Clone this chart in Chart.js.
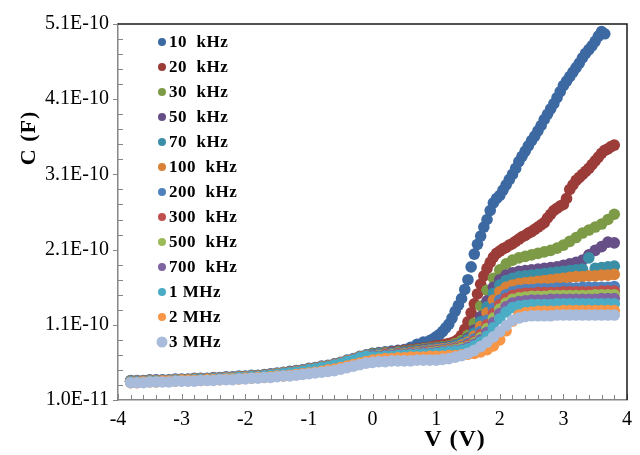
<!DOCTYPE html>
<html>
<head>
<meta charset="utf-8">
<script src="https://cdn.jsdelivr.net/npm/chart.js@4.4.1/dist/chart.umd.min.js"></script>
<style>
  html, body { margin: 0; padding: 0; background: #fff; }
  #wrap { width: 640px; height: 455px; }
</style>
</head>
<body>
<div id="wrap"><canvas id="cvChart" width="640" height="455"></canvas></div>
<script>
// bias voltage (V)
const voltage = [
  -3.8,-3.7,-3.6,-3.5,-3.4,-3.3,-3.2,-3.1,-3.0,-2.9,-2.8,-2.7,-2.6,-2.5,-2.4,-2.3,-2.2,-2.1,-2.0,
  -1.9,-1.8,-1.7,-1.6,-1.5,-1.4,-1.3,-1.2,-1.1,-1.0,-0.9,-0.8,-0.7,-0.6,-0.5,-0.4,-0.3,-0.2,-0.1,
  0.0,0.1,0.2,0.3,0.4,0.5,0.6,0.7,0.8,0.9,1.0,1.1,1.2,1.3,1.4,1.5,1.6,1.7,1.8,1.9,
  2.0,2.1,2.2,2.3,2.4,2.5,2.6,2.7,2.8,2.9,3.0,3.1,3.2,3.3,3.4,3.5,3.6,3.7,3.8
];
// in-between voltages, read only where the 10 and 20 kHz curves climb fast
const voltageHalf = [
  0.95,1.05,1.15,1.25,1.35,1.45,1.55,1.65,1.75,1.85,1.95,2.05,2.15,2.25,2.35,
  2.45,2.55,2.65,2.75,2.85,2.95,3.05,3.15,3.25,3.35,3.45,3.55,3.65,3.75
];

// capacitance in pF (1E-10 F = 100 pF), one array per frequency
const c10k = [36,36,36,37,37,37,37,38,38,38,39,39,39,40,40,41,41,42,42,43,43,44,45,46,47,48,49,50,52,53,55,56,58,60,63,65,68,70,
  72,73,74,75,76,77,80,84,87,89,94,101,111,128,145,170,204,228,250,272,282,296,310,327,341,355,368,383,397,412,428,440,452,465,476,487,500,null,null];
const c20k = [35,35,35,36,36,36,36,37,37,37,38,38,38,39,39,40,40,41,41,42,42,43,44,45,46,47,48,49,51,52,54,55,57,59,62,64,67,69,
  71,72,73,74,75,76,77,78,79,80,82,83,85,88,96,114,138,164,185,200,208,213,218,224,229,234,240,246,257,265,270,290,302,310,318,328,338,344,349];
const c30k = [35,35,35,36,36,36,36,37,37,37,38,38,38,39,39,40,40,41,41,42,42,43,44,45,46,47,48,49,51,52,54,55,57,59,62,64,67,69,
  71,72,73,73,74,75,76,77,78,79,80,81,82,85,89,96,112,135,156,172,183,191,196,199,201,203,205,207,209,212,216,221,226,232,236,240,244,250,257];
const c50k = [35,35,35,36,36,36,36,37,37,37,38,38,38,39,39,40,40,41,41,42,42,43,44,45,46,47,48,49,51,52,54,55,57,59,62,64,67,69,
  70,71,72,73,73,74,75,76,77,78,79,80,81,83,86,92,103,121,142,160,170,176,179,181,182,183,184,185,186,187,189,191,193,196,203,209,214,220,219];
const c70k = [35,35,35,36,36,36,36,37,37,37,38,38,38,39,39,40,40,41,41,42,42,43,44,45,46,47,48,49,51,52,54,55,57,59,62,64,67,69,
  70,71,71,72,73,73,74,75,76,77,78,79,80,82,85,90,99,114,134,152,163,169,172,174,175,176,177,178,179,180,181,182,183,184,199,185,186,187,188];
const c100k = [35,35,35,36,36,36,36,37,37,37,38,38,38,39,39,40,40,41,41,42,42,43,44,45,46,47,48,49,51,52,54,55,57,59,62,64,67,69,
  69,70,71,71,72,72,73,74,75,76,77,78,79,80,83,87,95,108,126,143,154,160,163,165,166,167,168,169,170,171,172,173,174,174,175,175,176,176,177];
const c200k = [34,34,34,35,35,35,35,36,36,36,37,37,37,38,38,39,39,40,40,41,41,42,43,44,45,46,47,48,50,51,53,54,56,58,61,63,66,68,
  69,70,70,71,71,72,72,73,74,75,76,77,78,79,81,85,91,101,116,132,143,150,154,156,157,157,158,158,158,159,159,159,159,160,160,160,160,160,161];
const c300k = [34,34,34,35,35,35,35,36,36,36,37,37,37,38,38,39,39,40,40,41,41,42,43,44,45,46,47,48,50,51,53,54,56,58,61,63,66,68,
  68,69,70,70,71,71,72,72,73,74,75,76,77,78,80,83,88,97,110,125,137,145,149,151,152,152,153,153,153,153,154,154,154,154,154,154,155,155,155];
const c500k = [34,34,34,35,35,35,35,36,36,36,37,37,37,38,38,39,39,40,40,41,41,42,43,44,45,46,47,48,50,51,53,54,56,58,61,63,66,68,
  68,69,69,70,70,71,71,72,72,73,74,75,76,77,79,81,86,93,105,119,131,139,144,146,147,148,148,148,149,149,149,149,149,149,149,150,150,150,150];
const c700k = [34,34,34,35,35,35,35,36,36,36,37,37,37,38,38,39,39,40,40,41,41,42,43,44,45,46,47,48,50,51,53,54,56,58,61,63,66,68,
  68,68,69,69,70,70,71,71,72,72,73,74,75,76,77,80,84,90,100,113,125,134,139,141,142,143,143,143,144,144,144,144,144,144,144,144,145,145,145];
const c1M = [34,34,34,35,35,35,35,36,36,36,37,37,37,38,38,39,39,40,40,41,41,42,43,44,45,46,47,48,50,51,53,54,56,58,61,63,66,68,
  67,67,68,68,69,69,70,70,71,71,72,73,74,75,76,78,82,87,95,106,118,127,133,135,136,137,137,137,137,138,138,138,138,138,138,138,138,138,138];
const c2M = [33,33,34,34,34,35,35,35,36,36,36,36,37,37,37,38,38,38,39,39,40,40,41,42,42,43,44,45,46,47,48,50,51,53,55,57,59,61,
  63,64,65,65,66,66,67,67,67,68,68,68,69,69,70,71,72,74,77,82,90,102,115,123,126,127,128,128,128,128,129,129,129,129,129,129,129,129,129];
const c3M = [33,33,33,34,34,34,34,35,35,35,35,36,36,36,37,37,37,38,38,39,39,40,40,41,42,42,43,44,45,46,47,48,49,51,53,55,57,59,
  60,61,61,62,62,62,62,63,63,63,63,64,65,67,69,72,76,81,87,94,101,109,116,119,121,122,122,122,122,123,123,123,123,123,123,123,123,123,123];

// extra readings at voltageHalf
const c10kHalf = [91,97,106,119,136,157,187,217,240,262,278,289,303,318,334,
  348,361,375,390,404,420,434,446,458,471,481,494,497,null];
const c20kHalf = [81,82,84,86,91,104,126,151,175,193,205,211,216,221,227,
  232,237,243,252,262,268,278,296,306,314,323,333,342,347];

const seriesNames = ['10  kHz', '20  kHz', '30  kHz', '50  kHz', '70  kHz', '100  kHz', '200  kHz',
  '300  kHz', '500  kHz', '700  kHz', '1 MHz', '2 MHz', '3 MHz'];
const seriesValues = [c10k, c20k, c30k, c50k, c70k, c100k, c200k, c300k, c500k, c700k, c1M, c2M, c3M];
const seriesHalf = { 0: c10kHalf, 1: c20kHalf };
const seriesColors = ['#3D69A2', '#9C3C39', '#7D9B47', '#664F87', '#3A8EA5', '#D98237', '#4F81BD',
  '#C0504D', '#9BBB59', '#8064A2', '#4BACC6', '#F79646', '#A8BBDA'];

const xTickValues = [-4, -3, -2, -1, 0, 1, 2, 3, 4];
const yTickValues = [10, 110, 210, 310, 410, 510];
const yTickLabels = ['1.0E-11', '1.1E-10', '2.1E-10', '3.1E-10', '4.1E-10', '5.1E-10'];

const datasets = seriesValues.map((vals, i) => ({
  label: seriesNames[i],
  data: vals.map((c, j) => ({ x: voltage[j], y: c }))
    .concat((seriesHalf[i] || []).map((c, j) => ({ x: voltageHalf[j], y: c }))),
  backgroundColor: seriesColors[i],
  borderWidth: 0,
  pointRadius: 5.8,
  pointHoverRadius: 5.8,
  showLine: false,
  order: seriesValues.length - 1 - i   // later series painted on top
}));

const serif = '"Liberation Serif", "Times New Roman", serif';

const decor = {
  id: 'decor',
  afterDatasetsDraw(chart) {
    const { ctx, chartArea: a, scales: { x, y } } = chart;
    ctx.save();
    // tick marks: x all inward, y majors outward / minors inward
    ctx.strokeStyle = '#868686';
    ctx.lineWidth = 1;
    ctx.beginPath();
    for (let k = 0; k <= 40; k++) {
      const px = Math.round(x.getPixelForValue(-4 + k * 0.2)) + 0.5;
      ctx.moveTo(px, a.bottom);
      ctx.lineTo(px, a.bottom - (k % 5 === 0 ? 6 : 5));
    }
    for (let k = 0; k <= 25; k++) {
      const py = Math.round(y.getPixelForValue(10 + k * 20)) + 0.5;
      ctx.moveTo(a.left, py);
      ctx.lineTo(k % 5 === 0 ? a.left - 5 : a.left + 5, py);
    }
    ctx.stroke();
    // plot frame top / right
    ctx.strokeStyle = '#1a1a1a';
    ctx.lineWidth = 1.5;
    ctx.beginPath();
    ctx.moveTo(a.left, a.top);
    ctx.lineTo(a.right, a.top);
    ctx.lineTo(a.right, a.bottom);
    ctx.stroke();
    ctx.restore();
  },
  afterDraw(chart) {
    const { ctx, chartArea: a } = chart;
    ctx.save();
    ctx.fillStyle = '#000';
    // axis titles
    ctx.font = 'bold 24px ' + serif;
    ctx.letterSpacing = '1px';
    ctx.textAlign = 'center';
    ctx.textBaseline = 'middle';
    ctx.fillText('V (V)', 455, a.bottom + 40);
    ctx.font = 'bold 22px ' + serif;
    ctx.translate(29, 138);
    ctx.rotate(-Math.PI / 2);
    ctx.fillText('C (F)', 0, 0);
    ctx.restore();

    // legend inside plot area
    ctx.save();
    ctx.font = 'bold 17px ' + serif;
    ctx.letterSpacing = '0.5px';
    ctx.textAlign = 'left';
    ctx.textBaseline = 'middle';
    const n = chart.data.datasets.length;
    chart.data.datasets.forEach((ds, i) => {
      const cy = a.top + 18 + i * 25;
      ctx.fillStyle = ds.backgroundColor;
      ctx.beginPath();
      ctx.arc(a.left + 44, cy, i === n - 1 ? 5.5 : 4, 0, Math.PI * 2);
      ctx.fill();
      ctx.fillStyle = '#000';
      ctx.fillText(ds.label, a.left + 51, cy + 1);
    });
    ctx.restore();
  }
};

new Chart(document.getElementById('cvChart'), {
  type: 'scatter',
  data: { datasets },
  options: {
    responsive: false,
    animation: false,
    devicePixelRatio: 1,
    layout: { padding: { left: 0, right: 10, top: 24, bottom: 0 } },
    plugins: { legend: { display: false }, tooltip: { enabled: false } },
    scales: {
      x: {
        type: 'linear',
        min: -4,
        max: 4,
        afterBuildTicks: s => { s.ticks = xTickValues.map(v => ({ value: v })); },
        afterFit: s => { s.height = 55; },
        ticks: {
          callback: v => String(v),
          font: { family: serif, size: 20 },
          color: '#000',
          padding: 8,
          maxRotation: 0,
          autoSkip: false
        },
        grid: { display: false, drawTicks: false },
        border: { color: '#868686', width: 1.5 }
      },
      y: {
        min: 10,
        max: 510,
        afterBuildTicks: s => { s.ticks = yTickValues.map(v => ({ value: v })); },
        afterFit: s => { s.width = 118; },
        ticks: {
          callback: v => yTickLabels[yTickValues.indexOf(v)],
          font: { family: serif, size: 20 },
          color: '#000',
          padding: 9,
          autoSkip: false
        },
        grid: { display: false, drawTicks: false },
        border: { color: '#868686', width: 1.5 }
      }
    }
  },
  plugins: [decor]
});
</script>
</body>
</html>
